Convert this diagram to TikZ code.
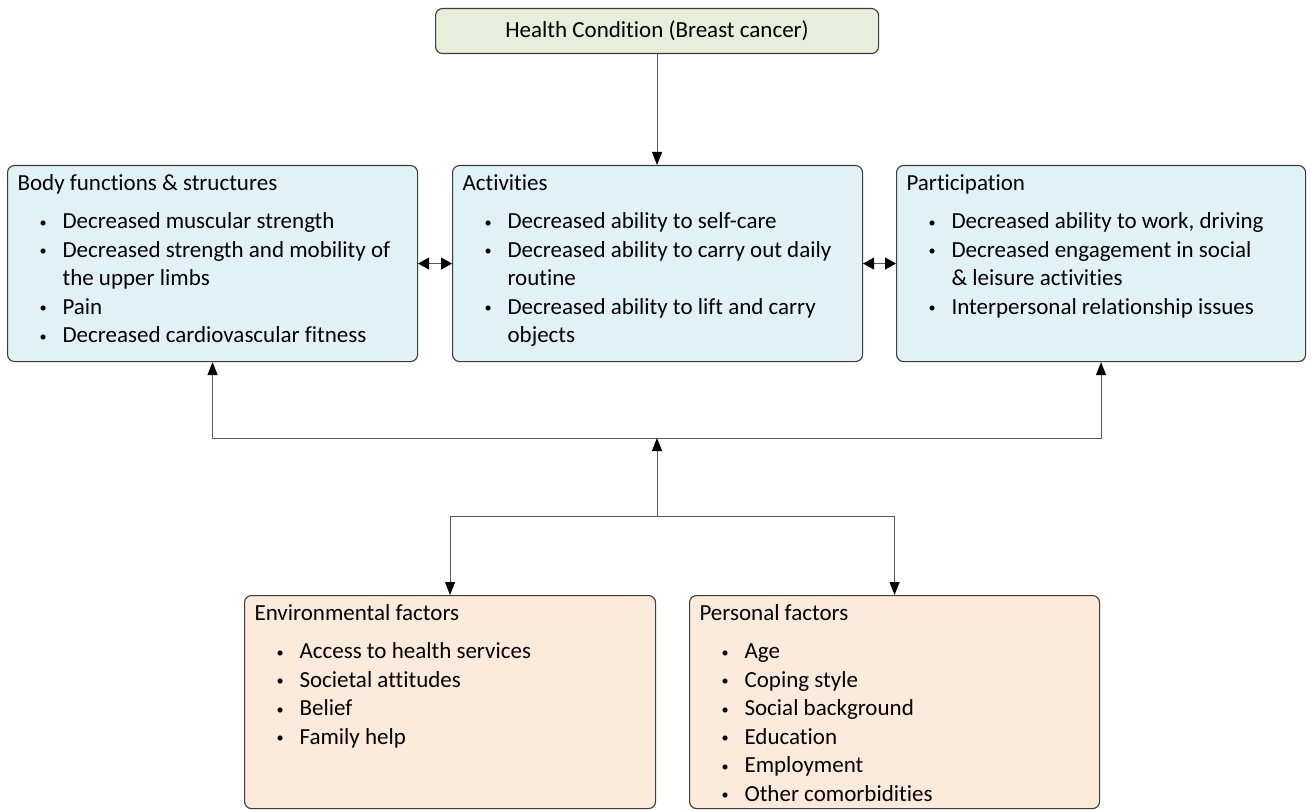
\documentclass[tikz,border=0pt]{standalone}
\usepackage{fontspec}
\setmainfont[Ligatures=NoCommon]{Carlito}
\usetikzlibrary{arrows.meta}
\definecolor{bluefill}{HTML}{E1F2F7}
\definecolor{greenfill}{HTML}{E9EDDC}
\definecolor{peachfill}{HTML}{FCEADB}
\definecolor{edgecol}{HTML}{3C3C3C}
\definecolor{conncol}{HTML}{5A5A5A}
\newcommand\boxhead[1]{\hspace*{10pt}\rule{0pt}{25pt}#1\par\vspace{9.5pt}}
\newcommand\smallbullet{\raisebox{1.5pt}{\scalebox{0.62}{\textbullet}}}
\newcommand\bitem[1]{\hangindent=55pt\hangafter=1\hspace*{32pt}\makebox[23pt][l]{\smallbullet}#1\par}
\newcommand\boxtext[3]{\parbox[t][#2pt][t]{#1pt}{\fontsize{23}{28.5}\selectfont\raggedright\parindent=0pt #3}}
\tikzset{
  box/.style={draw=edgecol, line width=1.1pt, rounded corners=7pt, inner sep=0pt, anchor=north west},
  conn/.style={draw=conncol, line width=1pt, arrows={-{Triangle[length=13pt,width=10pt,color=black]}}},
  dconn/.style={draw=conncol, line width=1pt, arrows={{Triangle[length=11pt,width=12pt,color=black]}-{Triangle[length=11pt,width=12pt,color=black]}}}
}
\begin{document}
\begin{tikzpicture}[x=1pt,y=-1pt]
\useasboundingbox (0,0) rectangle (1311,810);
\node[box, fill=greenfill, minimum width=443pt, minimum height=45pt, font=\fontsize{23}{28}\selectfont] (health) at (435,8) {Health Condition (Breast cancer)};
\node[box, fill=bluefill] (body) at (7,165) {\boxtext{410}{196}{%
\boxhead{Body functions \& structures}
\bitem{Decreased muscular strength}
\bitem{Decreased strength and mobility of\newline the upper limbs}
\bitem{Pain}
\bitem{Decreased cardiovascular fitness}}};
\node[box, fill=bluefill] (act) at (452,165) {\boxtext{410}{196}{%
\boxhead{Activities}
\bitem{Decreased ability to self-care}
\bitem{Decreased ability to carry out daily\newline routine}
\bitem{Decreased ability to lift and carry\newline objects}}};
\node[box, fill=bluefill] (part) at (896,165) {\boxtext{409}{196}{%
\boxhead{Participation}
\bitem{Decreased ability to work, driving}
\bitem{Decreased engagement in social\newline \& leisure activities}
\bitem{Interpersonal relationship issues}}};
\node[box, fill=peachfill] (env) at (244,595) {\boxtext{411}{213}{%
\boxhead{Environmental factors}
\bitem{Access to health services}
\bitem{Societal attitudes}
\bitem{Belief}
\bitem{Family help}}};
\node[box, fill=peachfill] (pers) at (689,595) {\boxtext{410}{213}{%
\boxhead{Personal factors}
\bitem{Age}
\bitem{Coping style}
\bitem{Social background}
\bitem{Education}
\bitem{Employment}
\bitem{Other comorbidities}}};
\coordinate (jt) at (657,438);
\coordinate (jb) at (657,516);
\draw[conn] (health.south) -- (health.south |- act.north);
\draw[dconn] (body.east) -- (act.west);
\draw[dconn] (act.east) -- (part.west);
\draw[conn] (jt) -| (body.south);
\draw[conn] (jt) -| (part.south);
\draw[conn] (jb) -- (jt);
\draw[conn] (jb) -| (env.north);
\draw[conn] (jb) -| (pers.north);
\end{tikzpicture}
\end{document}
